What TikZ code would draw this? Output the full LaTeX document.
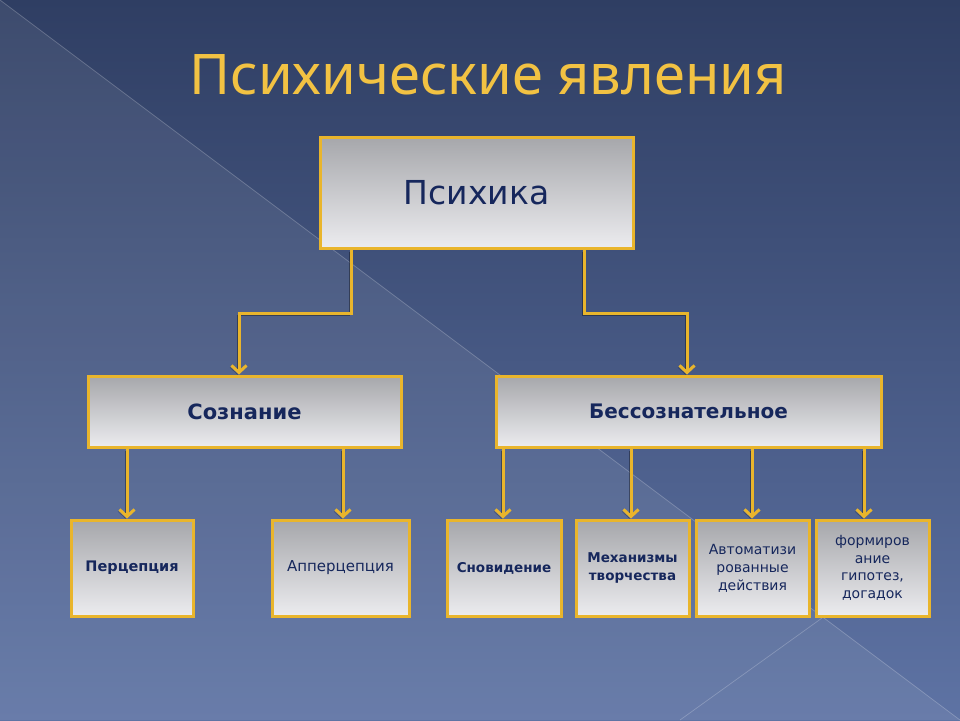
\documentclass[tikz,border=0pt]{standalone}
\usepackage{fontspec}
\setmainfont{DejaVu Sans}
\newfontfamily\titlefont{Noto Sans}
\usetikzlibrary{arrows.meta,calc}
\definecolor{bgtop}{HTML}{2F3E63}
\definecolor{bgbot}{HTML}{5E73A4}
\definecolor{gold}{HTML}{E9B52C}
\definecolor{titlegold}{HTML}{F2C243}
\definecolor{boxtop}{HTML}{A6A7AB}
\definecolor{boxbot}{HTML}{ECECEF}
\definecolor{navy}{HTML}{16275C}
\tikzset{
  box/.style={draw=gold, line width=3pt, top color=boxtop, bottom color=boxbot,
    align=center, text=navy, inner sep=0pt,
    preaction={fill=black, opacity=0.25, transform canvas={xshift=1.5pt,yshift=-1.5pt}}},
  conn/.style={draw=gold, line width=3pt, line join=miter,
    -{Straight Barb[length=7pt,width=15pt,line width=3pt]},
    preaction={draw=black, opacity=0.35, transform canvas={xshift=-1.5pt,yshift=-2pt}}},
  bghint/.style={draw=white, opacity=0.22, line width=0.7pt}
}
\begin{document}
\begin{tikzpicture}[x=1pt,y=-1pt]
\useasboundingbox (0,0) rectangle (960,720);
% background
\fill[top color=bgtop, bottom color=bgbot] (0,0) rectangle (960,720);
\fill[white, opacity=0.07] (0,0) -- (960,720) -- (0,720) -- cycle;
\draw[bghint] (0,0) -- (960,720);
\draw[bghint] (822,618) -- (680,720);
% title
\node (title) [text=titlegold, font=\titlefont\fontsize{56}{60}\selectfont] at (488,75) {Психические явления};
% boxes
\node (psy) [box, minimum width=313pt, minimum height=111pt, font=\fontsize{33}{40}\selectfont] at (476.5,192.5) {Психика};
\node (soz) [box, minimum width=313pt, minimum height=71pt, font=\bfseries\fontsize{21}{25}\selectfont] at (244.5,411.5) {Сознание};
\node (bes) [box, minimum width=385pt, minimum height=71pt, font=\bfseries\fontsize{20}{25}\selectfont] at (688.5,411.5) {Бессознательное};
\node (per) [box, minimum width=122pt, minimum height=96pt, font=\bfseries\fontsize{14.5}{18}\selectfont] at (132,568) {Перцепция};
\node (app) [box, minimum width=137pt, minimum height=96pt, font=\fontsize{15}{18}\selectfont] at (340.5,568) {Апперцепция};
\node (sno) [box, minimum width=114pt, minimum height=96pt, font=\bfseries\fontsize{13.5}{18}\selectfont] at (504,568) {Сновидение};
\node (mex) [box, minimum width=113pt, minimum height=96pt, font=\bfseries\fontsize{13.5}{18}\selectfont] at (632.5,568) {Механизмы\\творчества};
\node (avt) [box, minimum width=113pt, minimum height=96pt, font=\fontsize{14}{18}\selectfont] at (752.5,568) {Автоматизи\\рованные\\действия};
\node (frm) [box, minimum width=113pt, minimum height=96pt, font=\fontsize{14}{17.5}\selectfont] at (872.5,568) {формиров\\ание\\гипотез,\\догадок};
% connectors
\draw[conn] (psy.south -| 351,0) -- (351,313) -| (soz.north -| 239,0);
\draw[conn] (psy.south -| 584,0) -- (584,313) -| (bes.north -| 687,0);
\draw[conn] (soz.south -| 127,0) -- (per.north -| 127,0);
\draw[conn] (soz.south -| 343,0) -- (app.north -| 343,0);
\draw[conn] (bes.south -| 503,0) -- (sno.north -| 503,0);
\draw[conn] (bes.south -| 631,0) -- (mex.north -| 631,0);
\draw[conn] (bes.south -| 752,0) -- (avt.north -| 752,0);
\draw[conn] (bes.south -| 864,0) -- (frm.north -| 864,0);
\end{tikzpicture}
\end{document}
